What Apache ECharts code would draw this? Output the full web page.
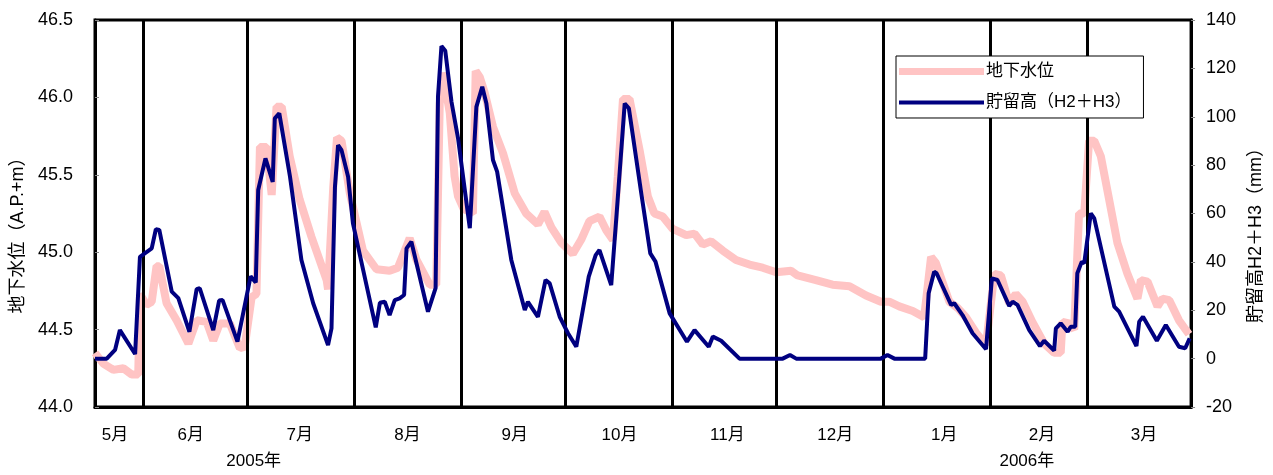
<!DOCTYPE html>
<html>
<head>
<meta charset="utf-8">
<script src="https://cdn.jsdelivr.net/npm/echarts@6/dist/echarts.min.js"></script>
<style>
html,body{margin:0;padding:0;background:#fff;}
#chart{width:1273px;height:475px;}
</style>
</head>
<body>
<div id="chart"></div>
<script>
// x values: days since 2005-05-18
var monthStartDays = [14, 44, 75, 106, 136, 167, 197, 228, 259, 287];
var monthLabels = ['5月','6月','7月','8月','9月','10月','11月','12月','1月','2月','3月'];
var monthLabelDays = [5.8, 27.7, 59.2, 90.4, 121.4, 151.7, 182.9, 214.1, 245.6, 273.9, 303.4];
var yearLabels = ['2005年','2006年'];
var yearLabelDays = [45.9, 269.5];

// 地下水位 (A.P.+m)
var levelDays = [0,2.4,5.3,8.2,10.6,12.5,13.0,14.9,16.4,17.8,18.6,20.7,23.6,27.0,29.4,32.3,34.2,36.1,39.0,41.9,43.3,45.3,46.7,47.7,49.6,51.1,52.5,54.0,56.3,59.2,62.6,67.0,67.4,68.9,70.0,71.3,73.7,77.5,81.4,85.2,87.6,91.0,93.0,96.8,98.7,99.7,100.6,102.6,104.0,105.0,106.6,109.3,110.1,111.3,112.7,115.1,118.0,121.4,124.7,128.1,130.0,132.0,134.9,138.2,140.6,143.0,145.9,147.9,149.8,151.2,152.7,154.6,157.5,159.9,161.8,164.2,167.1,171.0,173.4,175.8,178.2,181.6,185.4,189.3,193.1,197.0,201.3,203.2,208.5,213.3,218.2,223.0,227.3,229.7,232.6,236.5,239.8,241.8,243.2,247.1,249.5,251.9,254.8,257.7,260.1,262.0,264.4,266.3,268.3,271.1,274.5,277.4,279.3,279.8,281.7,283.2,284.6,286.1,287.5,289.0,290.9,293.3,295.7,298.6,301.5,302.5,304.4,307.3,308.7,310.7,313.5,316.4];
var levelVals = [44.35,44.28,44.24,44.25,44.21,44.21,44.73,44.66,44.68,44.91,44.91,44.67,44.56,44.41,44.56,44.55,44.43,44.54,44.54,44.38,44.39,44.71,44.73,45.68,45.68,45.37,45.94,45.94,45.62,45.34,45.10,44.82,44.76,45.42,45.74,45.72,45.38,45.01,44.89,44.88,44.90,45.09,44.95,44.79,44.79,45.96,46.16,45.90,45.49,45.36,45.28,45.25,46.17,46.13,46.03,45.81,45.64,45.38,45.25,45.18,45.26,45.16,45.06,44.99,45.08,45.20,45.23,45.14,45.08,45.49,45.99,45.99,45.66,45.36,45.25,45.23,45.15,45.11,45.12,45.05,45.07,45.01,44.95,44.92,44.90,44.87,44.88,44.85,44.82,44.79,44.78,44.72,44.68,44.68,44.65,44.62,44.58,44.97,44.93,44.68,44.64,44.58,44.48,44.40,44.86,44.85,44.67,44.73,44.68,44.55,44.41,44.35,44.35,44.55,44.54,44.50,45.25,45.25,45.72,45.72,45.62,45.34,45.06,44.86,44.70,44.82,44.81,44.65,44.70,44.69,44.56,44.47];

// 貯留高 H2+H3 (mm)
var storageDays = [0,3.4,5.8,7.2,11.6,13.0,16.4,17.6,18.6,22.2,24.1,27.3,29.4,30.3,34.2,35.9,36.9,41.2,45.0,46.5,47.2,49.3,51.4,52.0,53.3,56.4,59.7,63.1,67.4,68.4,69.4,70.3,71.3,73.2,74.6,81.2,82.4,83.8,85.2,86.7,88.1,89.4,90.1,91.5,96.3,98.5,99.2,100.2,101.3,103.1,105.0,108.4,110.3,112.0,113.2,115.1,116.3,120.4,124.3,125.2,128.1,130.3,131.5,134.4,136.8,139.2,142.8,144.8,145.9,149.3,150.8,153.2,154.4,158.0,160.6,162.1,166.2,171.2,173.4,177.5,178.7,181.1,186.4,198.9,201.0,202.8,227.3,229.2,231.2,240.1,241.1,242.7,243.4,247.6,248.5,250.9,253.8,257.7,259.4,261.0,264.4,265.4,266.8,270.2,273.3,274.5,277.4,277.9,279.3,281.3,282.2,283.5,284.1,285.4,286.1,288.0,289.0,294.8,296.2,301.2,302.0,303.1,307.1,309.7,313.5,315.3,316.6];
var storageVals = [0,0,3.6,11.8,1.9,42.1,45.6,53.5,53.2,27.7,25,11.1,28.7,29.1,11.8,24,24.2,7,34,31.5,69.7,82.8,73.1,99.3,101.4,75.2,40.8,22.9,5.6,12.5,71.1,88.3,86.2,75.2,55.9,12.9,23.1,23.5,18,24.2,24.9,26.3,45.6,48.3,19.4,29.1,108.3,129.2,127.3,106.2,91.1,53.9,104.1,112.4,105.5,82.1,77.3,40.8,20.1,23.5,17.3,32.5,31.1,17.3,10.5,4.9,33.9,42.8,44.9,30.4,58.7,105.5,103.5,68.3,43.5,40.1,18.7,7,11.8,4.9,9.1,7.4,0,0,1.5,0,0,1.5,0,0,27,35.9,35.3,22.2,22.9,18,10.5,3.9,33.2,32.5,21.8,23.5,22.2,11.8,5.2,7.4,3.3,12.5,14.6,11.1,13.2,13.2,35.3,40.1,39.4,60.1,58,21.5,19.4,5.2,15.3,17.3,7.4,13.9,4.9,4.3,8.4];

function zip(a, b) { return a.map(function (v, i) { return [v, b[i]]; }); }

var FONT = "'Liberation Sans', 'Noto Sans CJK JP', sans-serif";
var PINK = '#ffc4c4';
var NAVY = '#000080';
var chart = echarts.init(document.getElementById('chart'));
chart.setOption({
  animation: false,
  backgroundColor: '#fff',
  textStyle: { fontFamily: FONT, color: '#000' },
  grid: { left: 95, right: 81, top: 20, bottom: 68, show: true, borderColor: '#000', borderWidth: 3, backgroundColor: 'transparent' },
  legend: {
    data: [
      { name: '地下水位', icon: 'path://M0,0H85V7H0Z' },
      { name: '貯留高（H2＋H3）', icon: 'path://M0,0H85V4H0Z' }
    ],
    orient: 'vertical', left: 896, top: 56,
    padding: [7, 12, 7, 3],
    itemGap: 14,
    itemWidth: 85, itemHeight: 14,
    symbolKeepAspect: true,
    backgroundColor: '#fff', borderColor: '#000', borderWidth: 1,
    textStyle: { fontSize: 17, fontFamily: FONT, color: '#000', padding: [0, 0, 0, -3] },
    z: 20
  },
  xAxis: [{
    type: 'value', min: 0, max: 317, position: 'bottom',
    axisLine: { show: true, onZero: false, lineStyle: { color: '#000', width: 3 } },
    axisTick: { show: false },
    splitLine: { show: false },
    axisLabel: {
      customValues: monthLabelDays, margin: 20, fontSize: 17, color: '#000', fontFamily: FONT,
      formatter: function (v) { var i = monthLabelDays.indexOf(v); return i >= 0 ? monthLabels[i] : ''; }
    }
  }, {
    type: 'value', min: 0, max: 317, position: 'bottom', offset: 26,
    axisLine: { show: false, onZero: false }, axisTick: { show: false }, splitLine: { show: false },
    axisLabel: {
      customValues: yearLabelDays, margin: 20, fontSize: 17, color: '#000', fontFamily: FONT,
      formatter: function (v) { var i = yearLabelDays.indexOf(v); return i >= 0 ? yearLabels[i] : ''; }
    }
  }],
  yAxis: [{
    type: 'value', min: 44, max: 46.5, interval: 0.5, position: 'left',
    name: '地下水位（A.P.+m）', nameLocation: 'middle', nameRotate: 90, nameGap: 68,
    nameTextStyle: { fontSize: 18, fontFamily: FONT, color: '#000', padding: [0, 35, 0, 0] },
    axisLine: { show: true, onZero: false, lineStyle: { color: '#000', width: 3 } },
    axisTick: { show: true, inside: true, length: 4, lineStyle: { color: '#888' } },
    splitLine: { show: false },
    axisLabel: { margin: 22, fontSize: 18, color: '#000', formatter: function (v) { return v.toFixed(1); } }
  }, {
    type: 'value', min: -20, max: 140, interval: 20, position: 'right',
    name: '貯留高H2＋H3（mm）', nameLocation: 'middle', nameRotate: 90, nameGap: 54,
    nameTextStyle: { fontSize: 18, fontFamily: FONT, color: '#000', padding: [0, 35, 0, 0] },
    axisLine: { show: true, onZero: false, lineStyle: { color: '#000', width: 3 } },
    axisTick: { show: true, inside: false, length: 4, lineStyle: { color: '#888' } },
    splitLine: { show: false },
    axisLabel: { margin: 15, fontSize: 18, color: '#000' }
  }],
  series: [{
    name: '地下水位', type: 'line', xAxisIndex: 0, yAxisIndex: 0, z: 2,
    data: zip(levelDays, levelVals),
    symbol: 'none', smooth: false,
    lineStyle: { color: PINK, width: 8 },
    itemStyle: { color: PINK },
    markLine: {
      silent: true, symbol: ['none', 'none'], label: { show: false },
      lineStyle: { color: '#000', width: 3, type: 'solid' },
      data: monthStartDays.map(function (d) { return { xAxis: d }; })
    }
  }, {
    name: '貯留高（H2＋H3）', type: 'line', xAxisIndex: 0, yAxisIndex: 1, z: 5,
    data: zip(storageDays, storageVals),
    symbol: 'none', smooth: false,
    lineStyle: { color: NAVY, width: 4 },
    itemStyle: { color: NAVY }
  }]
});
</script>
</body>
</html>
